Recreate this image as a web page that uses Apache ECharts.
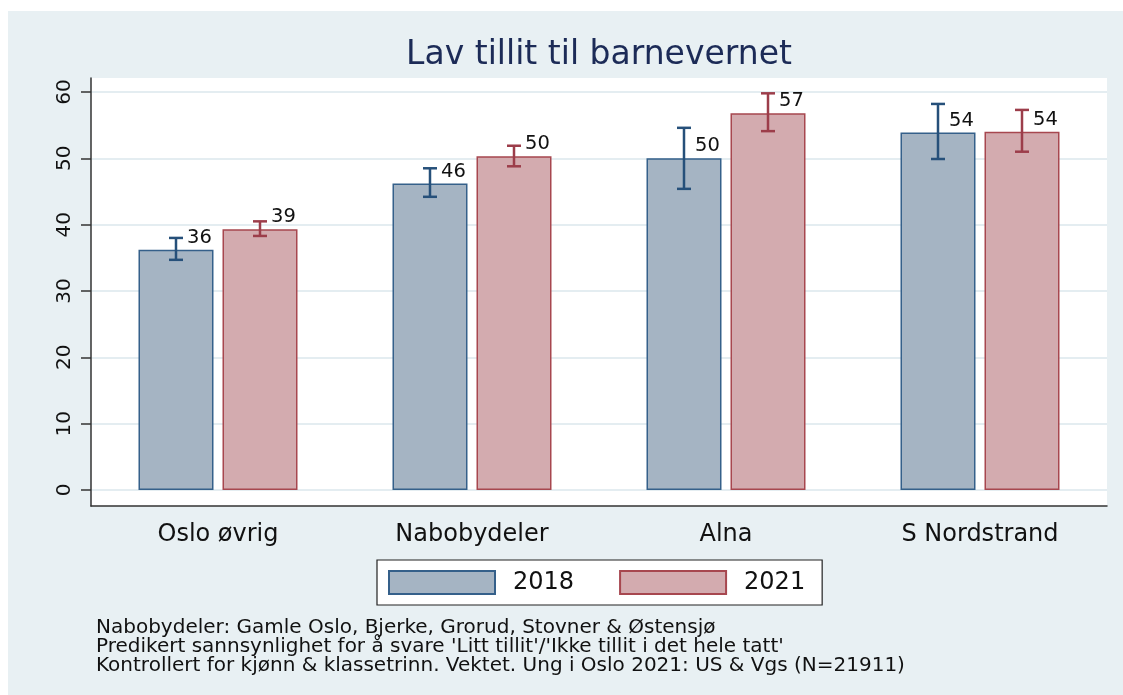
<!DOCTYPE html>
<html>
<head>
<meta charset="utf-8">
<script src="https://cdn.jsdelivr.net/npm/echarts@6/dist/echarts.min.js"></script>
<style>
  html, body { margin: 0; padding: 0; background: #fff; }
  #main { width: 1123px; height: 695px; }
</style>
</head>
<body>
<div id="main"></div>
<script>
var categories = ['Oslo øvrig', 'Nabobydeler', 'Alna', 'S Nordstrand'];
var years = ['2018', '2021'];
var val2018 = [36.2, 46.2, 50.0, 53.9];
var val2021 = [39.3, 50.3, 56.8, 54.0];
var lo2018 = [34.7, 44.2, 45.4, 49.9];
var hi2018 = [38.0, 48.5, 54.6, 58.2];
var lo2021 = [38.3, 48.8, 54.1, 51.0];
var hi2021 = [40.5, 51.9, 59.8, 57.3];
var yTicks = [0, 10, 20, 30, 40, 50, 60];
var notes = [
    'Nabobydeler: Gamle Oslo, Bjerke, Grorud, Stovner & Østensjø',
    "Predikert sannsynlighet for å svare 'Litt tillit'/'Ikke tillit i det hele tatt'",
    'Kontrollert for kjønn & klassetrinn. Vektet. Ung i Oslo 2021: US & Vgs (N=21911)'
];

var font = 'DejaVu Sans';
var blue = { fill: '#a5b4c3', line: '#35608a', err: '#26507a' };
var red = { fill: '#d3abaf', line: '#a7474f', err: '#9c3d4a' };
var catGap = 0.374, barGap = 0.12;

function errData(lo, hi) {
    return lo.map(function (v, i) { return [i, v, hi[i]]; });
}

function errRender(sign, color) {
    return function (params, api) {
        var band = api.size([1, 0])[0];
        var bw = band * (1 - catGap) / (2 + barGap);
        var x = api.coord([api.value(0), 0])[0] + sign * bw * (1 + barGap) / 2;
        var yl = api.coord([0, api.value(1)])[1];
        var yh = api.coord([0, api.value(2)])[1];
        var st = { stroke: color, lineWidth: 2.5 };
        return {
            type: 'group',
            children: [
                { type: 'line', shape: { x1: x, y1: yl, x2: x, y2: yh }, style: st },
                { type: 'line', shape: { x1: x - 7, y1: yl, x2: x + 7, y2: yl }, style: st },
                { type: 'line', shape: { x1: x - 7, y1: yh, x2: x + 7, y2: yh }, style: st }
            ]
        };
    };
}

var barLabel = {
    show: true,
    position: ['50%', 0],
    offset: [11, -12],
    align: 'left',
    verticalAlign: 'middle',
    fontFamily: font,
    fontSize: 19.5,
    color: '#111',
    formatter: function (p) { return Math.round(p.value); }
};

var option = {
    animation: false,
    backgroundColor: '#fff',
    textStyle: { fontFamily: font },
    graphic: [
        { type: 'rect', z: -100, shape: { x: 8, y: 11, width: 1115, height: 684 }, style: { fill: '#e8f0f3' } },
        { type: 'text', x: 599, y: 55, style: { text: 'Lav tillit til barnevernet', font: '33px "DejaVu Sans"', fill: '#1c2b57', align: 'center', verticalAlign: 'middle' } },
        { type: 'text', x: 96, y: 618, style: { text: notes.join('\n'), font: '20px "DejaVu Sans"', lineHeight: 19.3, fill: '#111', verticalAlign: 'top' } }
    ],
    legend: {
        data: years,
        left: 377,
        top: 560,
        orient: 'horizontal',
        backgroundColor: '#fff',
        borderColor: '#222',
        borderWidth: 1.2,
        borderRadius: 0,
        padding: [10, 17, 10, 11],
        itemWidth: 106,
        itemHeight: 23,
        itemGap: 45,
        icon: 'rect',
        textStyle: { fontFamily: font, fontSize: 24, color: '#111', padding: [0, 0, 0, 13] }
    },
    grid: [
        { left: 91, right: 16, top: 78, bottom: 189, show: true, backgroundColor: '#fff', borderWidth: 0 },
        { left: 91, right: 16, top: 92, bottom: 205 }
    ],
    xAxis: [
        {
            gridIndex: 0, type: 'value', min: 0, max: 1,
            axisLine: { show: true, onZero: false, lineStyle: { color: '#333', width: 1.5 } },
            axisTick: { show: false }, axisLabel: { show: false }, splitLine: { show: false }
        },
        {
            gridIndex: 1, type: 'category', data: categories,
            axisLine: { show: false }, axisTick: { show: false },
            axisLabel: { margin: 33, fontFamily: font, fontSize: 24, color: '#111' }
        }
    ],
    yAxis: [
        {
            gridIndex: 0, type: 'value', min: 0, max: 1,
            axisLine: { show: true, onZero: false, lineStyle: { color: '#333', width: 1.5 } },
            axisTick: { show: false }, axisLabel: { show: false }, splitLine: { show: false }
        },
        {
            gridIndex: 1, type: 'value', min: yTicks[0], max: yTicks[yTicks.length - 1], interval: 10,
            axisLine: { show: false },
            axisTick: { show: true, length: 10, lineStyle: { color: '#333', width: 1.5 } },
            axisLabel: { rotate: 90, margin: 16, fontFamily: font, fontSize: 20, color: '#111' },
            splitLine: { show: true, lineStyle: { color: '#e4edf1', width: 2 } }
        }
    ],
    series: [
        {
            name: '2018', type: 'bar', xAxisIndex: 1, yAxisIndex: 1,
            barGap: (barGap * 100) + '%', barCategoryGap: (catGap * 100) + '%',
            itemStyle: { color: blue.fill, borderColor: blue.line, borderWidth: 1.5 },
            label: barLabel,
            data: val2018
        },
        {
            name: '2021', type: 'bar', xAxisIndex: 1, yAxisIndex: 1,
            barGap: (barGap * 100) + '%', barCategoryGap: (catGap * 100) + '%',
            itemStyle: { color: red.fill, borderColor: red.line, borderWidth: 1.5 },
            label: barLabel,
            data: val2021
        },
        {
            type: 'custom', xAxisIndex: 1, yAxisIndex: 1, z: 5,
            renderItem: errRender(-1, blue.err),
            encode: { x: 0, y: [1, 2] },
            data: errData(lo2018, hi2018)
        },
        {
            type: 'custom', xAxisIndex: 1, yAxisIndex: 1, z: 5,
            renderItem: errRender(1, red.err),
            encode: { x: 0, y: [1, 2] },
            data: errData(lo2021, hi2021)
        }
    ]
};

var chart = echarts.init(document.getElementById('main'));
chart.setOption(option);
</script>
</body>
</html>
